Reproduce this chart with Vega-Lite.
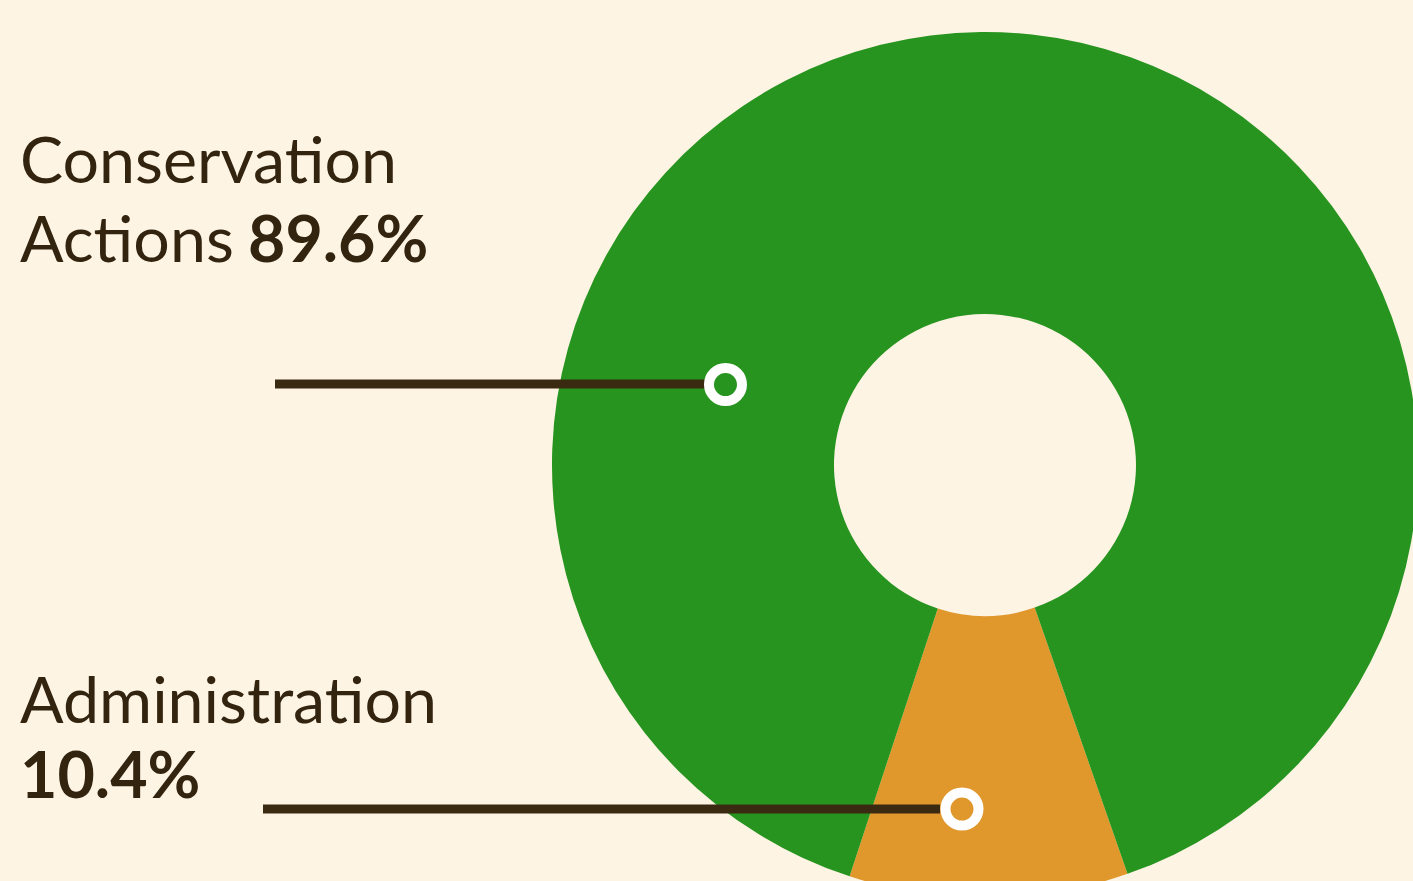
{
  "$schema": "https://vega.github.io/schema/vega-lite/v6.json",
  "width": 1413,
  "height": 881,
  "autosize": "none",
  "padding": 0,
  "background": "#FDF4E4",
  "config": {"view": {"stroke": null}, "font": "Lato"},
  "datasets": {
    "slices": [
      {"category": "Administration", "share": 0.104},
      {"category": "Conservation Actions", "share": 0.896}
    ],
    "labels": [
      {"id": "c1", "text": "Conservation"},
      {"id": "c2", "text": "Actions"},
      {"id": "a1", "text": "Administration"}
    ]
  },
  "layer": [
    {
      "data": {"name": "slices"},
      "mark": {"type": "arc", "outerRadius": 433, "innerRadius": 151},
      "encoding": {
        "x": {"datum": 0, "type": "quantitative", "scale": {"domain": [-227.48, 98.85], "nice": false, "zero": false}, "axis": null},
        "y": {"datum": 0, "type": "quantitative", "scale": {"domain": [-96.07, 107.39], "nice": false, "zero": false}, "axis": null},
        "theta": {"field": "share", "type": "quantitative", "stack": true, "scale": {"range": [2.80613, 9.08932]}},
        "order": {"field": "share", "sort": "ascending"},
        "color": {"field": "category", "type": "nominal", "scale": {"domain": ["Administration", "Conservation Actions"], "range": ["#E0972B", "#26941F"]}, "legend": null}
      }
    },
    {
      "data": {"name": "slices"},
      "transform": [{"filter": "datum.category === 'Conservation Actions'"}],
      "mark": {"type": "rule", "strokeWidth": 9, "color": "#3A2A12", "strokeCap": "butt"},
      "encoding": {
        "x": {"datum": -163.97, "type": "quantitative"},
        "x2": {"datum": -64.67},
        "y": {"datum": 18.71, "type": "quantitative"}
      }
    },
    {
      "data": {"name": "slices"},
      "transform": [{"filter": "datum.category === 'Administration'"}],
      "mark": {"type": "rule", "strokeWidth": 9, "color": "#3A2A12", "strokeCap": "butt"},
      "encoding": {
        "x": {"datum": -166.74, "type": "quantitative"},
        "x2": {"datum": -10.39},
        "y": {"datum": -79.45, "type": "quantitative"}
      }
    },
    {
      "data": {"name": "slices"},
      "transform": [{"filter": "datum.category === 'Conservation Actions'"}],
      "mark": {"type": "point", "shape": "circle", "size": 1089, "filled": false, "stroke": "#FFFFFF", "strokeWidth": 10, "opacity": 1},
      "encoding": {
        "x": {"datum": -59.93, "type": "quantitative"},
        "y": {"datum": 18.59, "type": "quantitative"}
      }
    },
    {
      "data": {"name": "slices"},
      "transform": [{"filter": "datum.category === 'Administration'"}],
      "mark": {"type": "point", "shape": "circle", "size": 1089, "filled": false, "stroke": "#FFFFFF", "strokeWidth": 10, "opacity": 1},
      "encoding": {
        "x": {"datum": -5.31, "type": "quantitative"},
        "y": {"datum": -79.45, "type": "quantitative"}
      }
    },
    {
      "data": {"name": "labels"},
      "transform": [{"filter": "datum.id === 'c1'"}],
      "mark": {"type": "text", "align": "left", "baseline": "alphabetic", "fontSize": 64.5, "color": "#33240F"},
      "encoding": {
        "x": {"datum": -222.86, "type": "quantitative"},
        "y": {"datum": 65.13, "type": "quantitative"},
        "text": {"field": "text"}
      }
    },
    {
      "data": {"name": "labels"},
      "transform": [{"filter": "datum.id === 'c2'"}],
      "mark": {"type": "text", "align": "left", "baseline": "alphabetic", "fontSize": 64.5, "color": "#33240F"},
      "encoding": {
        "x": {"datum": -222.86, "type": "quantitative"},
        "y": {"datum": 46.88, "type": "quantitative"},
        "text": {"field": "text"}
      }
    },
    {
      "data": {"name": "slices"},
      "transform": [{"filter": "datum.category === 'Conservation Actions'"}],
      "mark": {"type": "text", "align": "left", "baseline": "alphabetic", "fontSize": 64.5, "fontWeight": "bold", "color": "#33240F"},
      "encoding": {
        "x": {"datum": -170.21, "type": "quantitative"},
        "y": {"datum": 46.88, "type": "quantitative"},
        "text": {"field": "share", "type": "quantitative", "format": ".1%"}
      }
    },
    {
      "data": {"name": "labels"},
      "transform": [{"filter": "datum.id === 'a1'"}],
      "mark": {"type": "text", "align": "left", "baseline": "alphabetic", "fontSize": 64.5, "color": "#33240F"},
      "encoding": {
        "x": {"datum": -222.86, "type": "quantitative"},
        "y": {"datum": -59.58, "type": "quantitative"},
        "text": {"field": "text"}
      }
    },
    {
      "data": {"name": "slices"},
      "transform": [{"filter": "datum.category === 'Administration'"}],
      "mark": {"type": "text", "align": "left", "baseline": "alphabetic", "fontSize": 64.5, "fontWeight": "bold", "color": "#33240F"},
      "encoding": {
        "x": {"datum": -222.86, "type": "quantitative"},
        "y": {"datum": -76.91, "type": "quantitative"},
        "text": {"field": "share", "type": "quantitative", "format": ".1%"}
      }
    }
  ]
}
